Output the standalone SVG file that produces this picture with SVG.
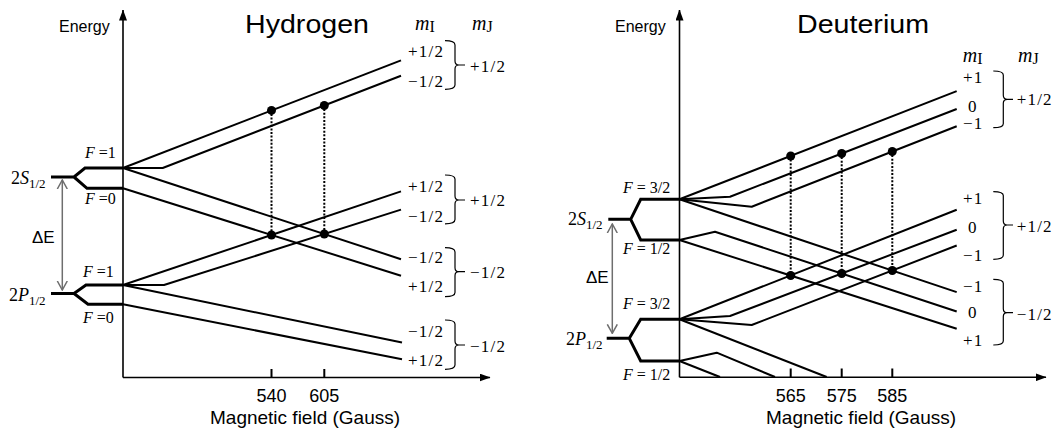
<svg xmlns="http://www.w3.org/2000/svg" width="1057" height="430" viewBox="0 0 1057 430">
<style>
.lv{stroke:#000;stroke-width:3;fill:none;stroke-linejoin:miter}
.ln{stroke:#000;stroke-width:2;fill:none;stroke-linejoin:round}
.ax{stroke:#000;stroke-width:1.6;fill:none}
.tk{stroke:#000;stroke-width:2}
.dt{stroke:#000;stroke-width:2;stroke-dasharray:2 1.6;fill:none}
.br{stroke:#000;stroke-width:1.2;fill:none}
.de{stroke:#6e6e6e;stroke-width:1.5;fill:none}
.sans{font-family:"Liberation Sans",Arial,sans-serif;fill:#000}
.ser{font-family:"Liberation Serif","Times New Roman",serif;fill:#000}
.v{font-size:17px;letter-spacing:1.2px}
.f{font-size:16px}
.it{font-style:italic}
.tl{font-size:18px}
</style>
<defs>
<marker id="ah" viewBox="0 0 11 8" refX="10.5" refY="4" markerWidth="11" markerHeight="8" markerUnits="userSpaceOnUse" orient="auto"><path d="M0,0 L11,4 L0,8 z" fill="#000"/></marker>
<marker id="va" viewBox="0 0 10 12" refX="9" refY="6" markerWidth="10" markerHeight="12" markerUnits="userSpaceOnUse" orient="auto-start-reverse"><path d="M0,1 L9,6 L0,11" fill="none" stroke="#6e6e6e" stroke-width="1.5"/></marker>
</defs>

<g id="hydrogen">
  <g id="h-axes">
    <path class="ax" d="M123,377.5 V10" marker-end="url(#ah)"/>
    <path class="ax" d="M123,377.5 H490" marker-end="url(#ah)"/>
    <path class="tk" d="M271.5,369 V377.5 M324.3,369 V377.5"/>
    <text class="sans" x="59" y="31.5" font-size="16">Energy</text>
    <text class="sans" x="245" y="33" font-size="26" textLength="124" lengthAdjust="spacingAndGlyphs">Hydrogen</text>
    <text class="sans tl" x="271.5" y="401.7" text-anchor="middle">540</text>
    <text class="sans tl" x="324.3" y="401.7" text-anchor="middle">605</text>
    <text class="sans" x="210" y="424" font-size="19">Magnetic field (Gauss)</text>
  </g>
  <g id="h-2S">
    <path class="lv" d="M51,177 H74 L85,168 H123 M74,177 L87,188.3 H123"/>
    <text class="ser" x="11" y="184" font-size="18">2<tspan class="it">S</tspan><tspan font-size="13" dy="4">1/2</tspan></text>
    <text class="ser f" x="85" y="157.5"><tspan class="it">F</tspan> =1</text>
    <text class="ser f" x="85" y="204"><tspan class="it">F</tspan> =0</text>
  </g>
  <g id="h-2P">
    <path class="lv" d="M51,293.5 H74 L86,285 H123 M74,293.5 L88,304.3 H123"/>
    <text class="ser" x="9" y="301" font-size="18">2<tspan class="it">P</tspan><tspan font-size="13" dy="4">1/2</tspan></text>
    <text class="ser f" x="83" y="277.3"><tspan class="it">F</tspan> =1</text>
    <text class="ser f" x="83" y="322.7"><tspan class="it">F</tspan> =0</text>
  </g>
  <g id="h-dE">
    <path class="de" d="M62.3,180 V290" marker-start="url(#va)" marker-end="url(#va)"/>
    <text class="sans" x="32" y="243" font-size="17">ΔE</text>
  </g>
  <g id="h-lines">
    <path class="ln" d="M123,168 L401,60.4"/>
    <path class="ln" d="M123,168 H162.7 L401,75.8"/>
    <path class="ln" d="M123,168 L401,259.2"/>
    <path class="ln" d="M123,188.3 L401,275.7"/>
    <path class="ln" d="M123,285 L401,191.4"/>
    <path class="ln" d="M123,285 H164 L401,209.6"/>
    <path class="ln" d="M123,285 L402,342.5"/>
    <path class="ln" d="M123,304.3 L402,359.3"/>
    <path class="dt" d="M271.5,110.4 V235 M324.3,105.5 V234"/>
    <circle cx="271.5" cy="110.4" r="4.5"/>
    <circle cx="324.3" cy="105.5" r="4.5"/>
    <circle cx="271.5" cy="235" r="4.5"/>
    <circle cx="324.3" cy="234" r="4.5"/>
  </g>
  <g id="h-labels">
    <text class="ser" x="415" y="30" font-size="20"><tspan class="it">m</tspan><tspan font-size="16" dy="2">I</tspan></text>
    <text class="ser" x="472" y="30" font-size="20"><tspan class="it">m</tspan><tspan font-size="16" dy="2">J</tspan></text>
    <text class="ser v" x="408" y="57">+1/2</text>
    <text class="ser v" x="408" y="87.3">−1/2</text>
    <path class="br" d="M445,40.7 Q455,40.7 455,45 V61 Q455,65 459,65 H465 M459,65 Q455,65 455,69 V85 Q455,89.3 445,89.3"/>
    <text class="ser v" x="470" y="71.7">+1/2</text>
    <text class="ser v" x="408" y="191.7">+1/2</text>
    <text class="ser v" x="408" y="221.7">−1/2</text>
    <path class="br" d="M445,175 Q455,175 455,179 V196 Q455,200 459,200 H465 M459,200 Q455,200 455,204 V219.5 Q455,223.8 445,223.8"/>
    <text class="ser v" x="470" y="206">+1/2</text>
    <text class="ser v" x="408" y="263.3">−1/2</text>
    <text class="ser v" x="408" y="291.7">+1/2</text>
    <path class="br" d="M445,247.7 Q455,247.7 455,252 V267.7 Q455,271.7 459,271.7 H465 M459,271.7 Q455,271.7 455,275.7 V292.5 Q455,296.7 445,296.7"/>
    <text class="ser v" x="470" y="278.3">−1/2</text>
    <text class="ser v" x="408" y="336.7">−1/2</text>
    <text class="ser v" x="408" y="366">+1/2</text>
    <path class="br" d="M445,320 Q455,320 455,324 V341 Q455,345 459,345 H465 M459,345 Q455,345 455,349 V365 Q455,369.3 445,369.3"/>
    <text class="ser v" x="470" y="351.7">−1/2</text>
  </g>
</g>

<g id="deuterium">
  <g id="d-axes">
    <path class="ax" d="M679.5,377.3 V10" marker-end="url(#ah)"/>
    <path class="ax" d="M679.5,377.3 H1046" marker-end="url(#ah)"/>
    <path class="tk" d="M790.7,368.5 V377.3 M841.7,368.5 V377.3 M892.3,368.5 V377.3"/>
    <text class="sans" x="615" y="31.5" font-size="16">Energy</text>
    <text class="sans" x="797" y="33" font-size="26" textLength="132" lengthAdjust="spacingAndGlyphs">Deuterium</text>
    <text class="sans tl" x="790.7" y="401.7" text-anchor="middle">565</text>
    <text class="sans tl" x="841.7" y="401.7" text-anchor="middle">575</text>
    <text class="sans tl" x="892.3" y="401.7" text-anchor="middle">585</text>
    <text class="sans" x="766" y="424" font-size="19">Magnetic field (Gauss)</text>
  </g>
  <g id="d-2S">
    <path class="lv" d="M608.3,219.3 H630.7 L640.7,199.3 H679.5 M630.7,219.3 L640.7,240 H679.5"/>
    <text class="ser" x="568" y="225" font-size="18">2<tspan class="it">S</tspan><tspan font-size="13" dy="4">1/2</tspan></text>
    <text class="ser f" x="623" y="193.3"><tspan class="it">F</tspan> = 3/2</text>
    <text class="ser f" x="623" y="254.3"><tspan class="it">F</tspan> = 1/2</text>
  </g>
  <g id="d-2P">
    <path class="lv" d="M606.7,338.3 H629.3 L640.7,319.3 H679.5 M629.3,338.3 L640.7,361 H679.5"/>
    <text class="ser" x="566" y="345" font-size="18">2<tspan class="it">P</tspan><tspan font-size="13" dy="4">1/2</tspan></text>
    <text class="ser f" x="623" y="309.3"><tspan class="it">F</tspan> = 3/2</text>
    <text class="ser f" x="623" y="380"><tspan class="it">F</tspan> = 1/2</text>
  </g>
  <g id="d-dE">
    <path class="de" d="M612.3,224 V333.3" marker-start="url(#va)" marker-end="url(#va)"/>
    <text class="sans" x="586" y="283.3" font-size="17">ΔE</text>
  </g>
  <g id="d-lines">
    <path class="ln" d="M679.5,199.3 L956.7,91.1"/>
    <path class="ln" d="M679.5,199.3 L730,196.7 L956.7,109"/>
    <path class="ln" d="M679.5,199.3 L751.7,206.7 L956.7,126.2"/>
    <path class="ln" d="M679.5,199.3 L956.7,292.1"/>
    <path class="ln" d="M679.5,240 L715,231.7 L956.7,311.5"/>
    <path class="ln" d="M679.5,240 L956.7,328.7"/>
    <path class="ln" d="M679.5,319.3 L956.7,209.8"/>
    <path class="ln" d="M679.5,319.3 L730,316 L956.7,229.7"/>
    <path class="ln" d="M679.5,319.3 L751.7,325 L956.7,245.5"/>
    <path class="ln" d="M679.5,319.3 L826.7,377"/>
    <path class="ln" d="M679.5,361 L716.7,352.7 L775,377"/>
    <path class="ln" d="M679.5,361 L720,377"/>
    <path class="dt" d="M790.7,156 V275.5 M841.7,153.5 V273.5 M892.3,151.5 V270.5"/>
    <circle cx="790.7" cy="156" r="4.5"/>
    <circle cx="841.7" cy="153.5" r="4.5"/>
    <circle cx="892.3" cy="151.5" r="4.5"/>
    <circle cx="790.7" cy="275.5" r="4.5"/>
    <circle cx="841.7" cy="273.5" r="4.5"/>
    <circle cx="892.3" cy="270.5" r="4.5"/>
  </g>
  <g id="d-labels">
    <text class="ser" x="962.7" y="61.7" font-size="20"><tspan class="it">m</tspan><tspan font-size="16" dy="2">I</tspan></text>
    <text class="ser" x="1018" y="61.7" font-size="20"><tspan class="it">m</tspan><tspan font-size="16" dy="2">J</tspan></text>
    <text class="ser v" x="963" y="83.3">+1</text>
    <text class="ser v" x="968" y="111.7">0</text>
    <text class="ser v" x="963" y="129">−1</text>
    <path class="br" d="M993.3,71 Q1003.3,71 1003.3,75 V95.3 Q1003.3,99.3 1007.3,99.3 H1013 M1007.3,99.3 Q1003.3,99.3 1003.3,103.3 V123.7 Q1003.3,127.7 993.3,127.7"/>
    <text class="ser v" x="1016.7" y="105">+1/2</text>
    <text class="ser v" x="963" y="204">+1</text>
    <text class="ser v" x="968" y="233.3">0</text>
    <text class="ser v" x="963" y="260.7">−1</text>
    <path class="br" d="M993.3,191.6 Q1003.3,191.6 1003.3,195.6 V221 Q1003.3,225 1007.3,225 H1013 M1007.3,225 Q1003.3,225 1003.3,229 V255.3 Q1003.3,259.3 993.3,259.3"/>
    <text class="ser v" x="1016.7" y="231.7">+1/2</text>
    <text class="ser v" x="963" y="291.7">−1</text>
    <text class="ser v" x="968" y="318.3">0</text>
    <text class="ser v" x="963" y="345.7">+1</text>
    <path class="br" d="M993.3,279.3 Q1003.3,279.3 1003.3,283.3 V308.7 Q1003.3,312.7 1007.3,312.7 H1013 M1007.3,312.7 Q1003.3,312.7 1003.3,316.7 V341 Q1003.3,345 993.3,345"/>
    <text class="ser v" x="1016.7" y="320">−1/2</text>
  </g>
</g>
</svg>
